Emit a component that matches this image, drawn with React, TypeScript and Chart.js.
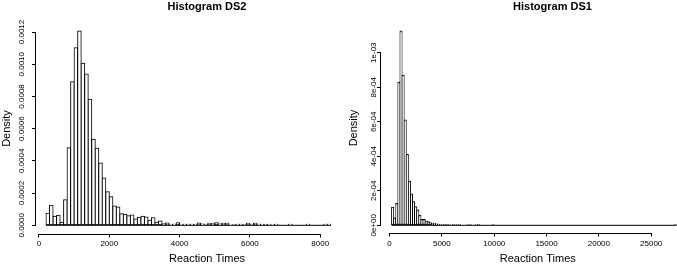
import React, { useEffect, useRef } from 'react';
import { Chart, registerables } from 'chart.js';

Chart.register(...registerables);

// ---------------- data ----------------
// DS2: histogram with 100 ms bins starting at 200 ms (density per bin)
const DS2_TITLE = 'Histogram DS2';
const DS2_FIRST_BREAK = 200;
const DS2_BIN_WIDTH = 100;
const DS2_DENSITY = [
  0.000075, 0.000124, 0.000056, 0.000062, 0.000019, 0.000159, 0.000482, 0.000891, 0.001102, 0.001206,
  0.001006, 0.000939, 0.000782, 0.000534, 0.000478, 0.000387, 0.000294, 0.000209, 0.000178, 0.00012,
  0.000114, 0.000072, 0.000068, 0.00006, 0.000064, 0.000039, 0.00005, 0.000056, 0.000052, 0.000031,
  0.000047, 0.000019, 0.000027, 0.00001, 0.000014, 0.000006, 0.000006, 0.000016, 0.000006, 0.000006,
  0.000006, 0.000006, 0.000003, 0.000014, 0.000008, 0.000003, 0.000012, 0.00001, 0.000016, 0.000008,
  0.000012, 0.000012, 0, 0.000004, 0.000006, 0.000006, 0.000004, 0.000012, 0.000004, 0.000012,
  0.000006, 0.000006, 0.000004, 0.000006, 0, 0.000006, 0, 0, 0, 0.000006,
  0, 0, 0, 0, 0.000006, 0, 0, 0, 0, 0.000006,
  0.000006,
];
const DS2_X_TICKS = [0, 2000, 4000, 6000, 8000];
const DS2_X_TICK_LABELS = ['0', '2000', '4000', '6000', '8000'];
const DS2_Y_TICKS = [0, 0.0002, 0.0004, 0.0006, 0.0008, 0.001, 0.0012];
const DS2_Y_TICK_LABELS = ['0.0000', '0.0002', '0.0004', '0.0006', '0.0008', '0.0010', '0.0012'];

// DS1: histogram with 200 ms bins starting at 200 ms (density per bin)
const DS1_TITLE = 'Histogram DS1';
const DS1_FIRST_BREAK = 200;
const DS1_BIN_WIDTH = 200;
const DS1_DENSITY = [
  0.000104, 0.000042, 0.000126, 0.000829, 0.001126, 0.00087, 0.00061, 0.00041, 0.000255, 0.000182,
  0.000137, 0.000108, 0.000088, 0.000058, 0.000034, 0.000033, 0.000025, 0.000021, 0.000015, 0.000012,
  0.000009, 0.000007, 0.000006, 0.000005, 0.000005, 0.000004, 0.000004, 0.000003, 0, 0.000002,
  0.000003, 0, 0.000002, 0, 0, 0, 0.000003, 0.000002, 0, 0,
  0.000003, 0.000002, 0, 0, 0, 0, 0, 0, 0.000002, 0,
  0, 0, 0, 0, 0, 0, 0, 0, 0, 0,
  0, 0, 0, 0, 0, 0, 0, 0, 0, 0,
  0, 0, 0, 0, 0, 0, 0, 0, 0, 0,
  0, 0, 0, 0, 0, 0, 0, 0, 0, 0,
  0, 0, 0, 0, 0, 0, 0, 0, 0, 0,
  0, 0, 0, 0, 0, 0, 0, 0, 0, 0,
  0, 0, 0, 0, 0, 0, 0, 0, 0, 0,
  0, 0, 0, 0, 0, 0, 0, 0, 0, 0,
  0, 0, 0, 0, 0, 0.000002,
];
const DS1_X_TICKS = [0, 5000, 10000, 15000, 20000, 25000];
const DS1_X_TICK_LABELS = ['0', '5000', '10000', '15000', '20000', '25000'];
const DS1_Y_TICKS = [0, 0.0002, 0.0004, 0.0006, 0.0008, 0.001];
const DS1_Y_TICK_LABELS = ['0e+00', '2e-04', '4e-04', '6e-04', '8e-04', '1e-03'];

const X_LABEL = 'Reaction Times';
const Y_LABEL = 'Density';

// ---------------- styling ----------------
const FONT = "'Liberation Sans', Arial, Helvetica, sans-serif";
const H = 268;

// R-style axis lines: only from the first to the last tick
const rAxisLines = {
  id: 'rAxisLines',
  afterDraw(chart: any) {
    const { ctx, chartArea } = chart;
    const xs = chart.scales.x;
    const ys = chart.scales.y;
    ctx.save();
    ctx.strokeStyle = '#000';
    ctx.lineWidth = 1;
    ctx.beginPath();
    const yb = Math.round(chartArea.bottom) + 0.5;
    ctx.moveTo(xs.getPixelForValue(xs.ticks[0].value), yb);
    ctx.lineTo(xs.getPixelForValue(xs.ticks[xs.ticks.length - 1].value), yb);
    const xl = Math.round(chartArea.left) - 0.5;
    ctx.moveTo(xl, ys.getPixelForValue(ys.ticks[0].value));
    ctx.lineTo(xl, ys.getPixelForValue(ys.ticks[ys.ticks.length - 1].value));
    ctx.stroke();
    ctx.restore();
  },
};

type PanelSpec = {
  title: string;
  density: number[];
  firstBreak: number;
  binWidth: number;
  xTicks: number[];
  xTickLabels: string[];
  yTicks: number[];
  yTickLabels: string[];
  xMin: number;
  xMax: number;
  yMin: number;
  yMax: number;
  yAxisWidth: number;
  xAxisHeight: number;
  yTickPadding: number;
  xTickPadding: number;
  yTitlePadTop: number;
  titleFullSize: boolean;
  rightPadWidth: number;
};

function buildConfig(p: PanelSpec): any {
  const bars = p.density.map((d, i) => ({ x: p.firstBreak + p.binWidth * (i + 0.5), y: d }));
  const baseline = [
    { x: p.firstBreak, y: 0 },
    { x: p.firstBreak + p.binWidth * p.density.length, y: 0 },
  ];
  const tickGrid = (len: number) => ({
    display: true,
    offset: false,
    drawOnChartArea: false,
    drawTicks: true,
    tickLength: len,
    color: '#000',
    lineWidth: 1,
  });
  const scales: any = {
    x: {
      type: 'linear',
      position: 'bottom',
      min: p.xMin,
      max: p.xMax,
      offset: false,
      afterBuildTicks: (s: any) => {
        s.ticks = p.xTicks.map((v) => ({ value: v }));
      },
      afterFit: (s: any) => {
        s.height = p.xAxisHeight;
      },
      grid: tickGrid(3.5),
      border: { display: false },
      ticks: {
        autoSkip: false,
        minRotation: 0,
        maxRotation: 0,
        padding: p.xTickPadding,
        color: '#000',
        font: { family: FONT, size: 8 },
        callback: (_v: any, i: number) => p.xTickLabels[i],
      },
      title: {
        display: true,
        text: X_LABEL,
        color: '#000',
        font: { family: FONT, size: 11 },
        padding: { top: 0, bottom: 2.4 },
      },
    },
    y: {
      type: 'linear',
      position: 'left',
      min: p.yMin,
      max: p.yMax,
      afterBuildTicks: (s: any) => {
        s.ticks = p.yTicks.map((v) => ({ value: v }));
      },
      afterFit: (s: any) => {
        s.width = p.yAxisWidth;
      },
      grid: tickGrid(4),
      border: { display: false },
      ticks: {
        autoSkip: false,
        minRotation: 90,
        maxRotation: 90,
        crossAlign: 'center',
        padding: p.yTickPadding,
        color: '#000',
        font: { family: FONT, size: 8 },
        callback: (_v: any, i: number) => p.yTickLabels[i],
      },
      title: {
        display: true,
        text: Y_LABEL,
        color: '#000',
        font: { family: FONT, size: 11 },
        padding: { top: p.yTitlePadTop, bottom: 0 },
      },
    },
  };
  if (p.rightPadWidth > 0) {
    scales.pad = {
      type: 'linear',
      position: 'right',
      display: true,
      grid: { display: false },
      border: { display: false },
      ticks: { display: false },
      title: { display: false },
      afterFit: (s: any) => {
        s.width = p.rightPadWidth;
      },
    };
  }
  return {
    type: 'bar',
    data: {
      datasets: [
        {
          type: 'line',
          data: baseline,
          borderColor: '#000',
          borderWidth: 1,
          pointRadius: 0,
          order: 0,
          xAxisID: 'x',
          yAxisID: 'y',
        },
        {
          type: 'bar',
          data: bars,
          backgroundColor: '#fff',
          borderColor: '#000',
          borderWidth: 1,
          borderSkipped: false,
          inflateAmount: 0.5,
          barPercentage: 1,
          categoryPercentage: 1,
          order: 1,
          xAxisID: 'x',
          yAxisID: 'y',
        },
      ],
    },
    options: {
      responsive: false,
      animation: false,
      events: [],
      layout: { padding: 0 },
      plugins: {
        legend: { display: false },
        tooltip: { enabled: false },
        title: {
          display: true,
          text: p.title,
          color: '#000',
          fullSize: p.titleFullSize,
          font: { family: FONT, size: 11, weight: 'bold' },
          padding: { top: 0, bottom: 9.8 },
        },
      },
      scales,
    },
    plugins: [rAxisLines],
  };
}

function HistogramPanel({ spec, left, width }: { spec: PanelSpec; left: number; width: number }) {
  const ref = useRef<HTMLCanvasElement>(null);
  useEffect(() => {
    const chart = new Chart(ref.current as HTMLCanvasElement, buildConfig(spec));
    return () => chart.destroy();
  }, []);
  return (
    <canvas
      ref={ref}
      width={width}
      height={H}
      style={{ position: 'absolute', left, top: 0, width, height: H }}
    />
  );
}

const DS2_SPEC: PanelSpec = {
  title: DS2_TITLE,
  density: DS2_DENSITY,
  firstBreak: DS2_FIRST_BREAK,
  binWidth: DS2_BIN_WIDTH,
  xTicks: DS2_X_TICKS,
  xTickLabels: DS2_X_TICK_LABELS,
  yTicks: DS2_Y_TICKS,
  yTickLabels: DS2_Y_TICK_LABELS,
  xMin: -85.3,
  xMax: 9644,
  yMin: -0.000054,
  yMax: 0.0012559,
  yAxisWidth: 36,
  xAxisHeight: 34,
  yTickPadding: -2.5,
  xTickPadding: 1.7,
  yTitlePadTop: 0,
  titleFullSize: false,
  rightPadWidth: 0,
};

const DS1_SPEC: PanelSpec = {
  title: DS1_TITLE,
  density: DS1_DENSITY,
  firstBreak: DS1_FIRST_BREAK,
  binWidth: DS1_BIN_WIDTH,
  xTicks: DS1_X_TICKS,
  xTickLabels: DS1_X_TICK_LABELS,
  yTicks: DS1_Y_TICKS,
  yTickLabels: DS1_Y_TICK_LABELS,
  xMin: -812,
  xMax: 29146,
  yMin: -0.0000446,
  yMax: 0.0011721,
  yAxisWidth: 44,
  xAxisHeight: 35,
  yTickPadding: -8.2,
  xTickPadding: 2.7,
  yTitlePadTop: 10.7,
  titleFullSize: true,
  rightPadWidth: 73.4,
};

export default function App() {
  return (
    <div
      style={{
        position: 'fixed',
        left: 0,
        top: 0,
        width: 677,
        height: H,
        overflow: 'hidden',
        background: '#fff',
      }}
    >
      <HistogramPanel spec={DS2_SPEC} left={0} width={378} />
      <HistogramPanel spec={DS1_SPEC} left={337} width={431} />
    </div>
  );
}
